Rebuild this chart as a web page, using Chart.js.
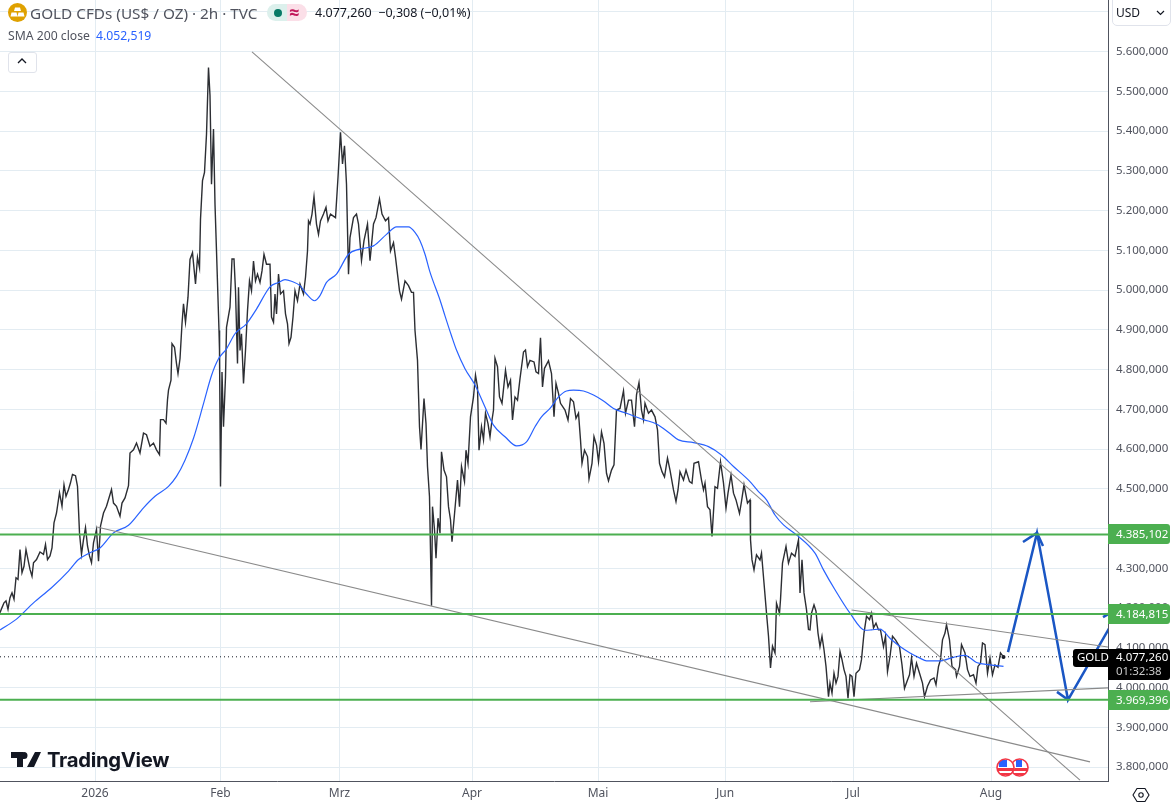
<!DOCTYPE html>
<html lang="de">
<head>
<meta charset="utf-8">
<title>GOLD CFDs</title>
<script src="https://cdn.jsdelivr.net/npm/chart.js@4"></script>
<style>
html,body{margin:0;padding:0;background:#fff;width:1172px;height:805px;overflow:hidden;font-family:"Noto Sans","Open Sans",sans-serif;color:#131722}
#wrap{position:relative;width:1172px;height:805px}
canvas{position:absolute;left:0;top:0}
.o{position:absolute;white-space:nowrap}
</style>
</head>
<body>
<div id="wrap">
<canvas id="c" width="1172" height="805"></canvas>
<svg class="o" style="left:8px;top:3px" width="19" height="19" viewBox="0 0 19 19"><circle cx="9.5" cy="9.5" r="9.5" fill="#dfa100"/><path d="M7 4.5h5l1 3.5H6z" fill="#fff"/><path d="M3.5 9.5h5l1 4h-7zM10.5 9.500h5l1 4h-7z" fill="#fff"/></svg>
<div class="o" style="left:30px;top:1px;font-size:15.3px;line-height:24px;color:#50535e">GOLD CFDs (US$ / OZ) · 2h · TVC</div>
<div class="o" style="left:267px;top:4px;width:20px;height:17px;background:#dcf0ec;border-radius:9px 0 0 9px"></div>
<div class="o" style="left:287px;top:4px;width:20px;height:17px;background:#fbdfe8;border-radius:0 9px 9px 0"></div>
<div class="o" style="left:274px;top:8.500px;width:8px;height:8px;background:#087a66;border-radius:50%"></div>
<div class="o" style="left:289px;top:0px;font-size:18px;line-height:24px;color:#c2185b;font-weight:700">≈</div>
<div class="o" style="left:315px;top:1px;font-size:12.5px;line-height:24px;color:#131722">4.077,260&nbsp; −0,308 (−0,01%)</div>
<div class="o" style="left:8px;top:25px;font-size:12.2px;line-height:22px;color:#50535e">SMA 200 close</div>
<div class="o" style="left:96px;top:25px;font-size:12.2px;line-height:22px;color:#2962ff">4.052,519</div>
<div class="o" style="left:8px;top:52px;width:27px;height:19px;border:1px solid #e0e3eb;border-radius:3px;background:#fff"></div>
<svg class="o" style="left:16px;top:57px" width="12" height="9" viewBox="0 0 12 9"><path d="M2 6l4-4 4 4" fill="none" stroke="#131722" stroke-width="1.3"/></svg>
<div class="o" style="left:1112px;top:-1px;width:57px;height:25px;border:1px solid #e0e3eb;border-radius:0 0 5px 5px;background:#fff"></div>
<div class="o" style="left:1116px;top:1px;font-size:12px;line-height:24px;color:#131722">USD</div>
<svg class="o" style="left:1156px;top:10px" width="9" height="6" viewBox="0 0 9 6"><path d="M1 1l3.500 3.500L8 1" fill="none" stroke="#131722" stroke-width="1.200"/></svg>
<svg class="o" style="left:11px;top:752px" width="30" height="16" viewBox="0 0 30 16"><path d="M0 0h12v15H6V6H0zM24 0h6l-7 15h-7zM13 0a3.500 3.500 0 1 1 0 7a3.500 3.500 0 1 1 0-7z" fill="#131722"/></svg>
<div class="o" style="left:47px;top:746px;font-family:Inter,Roboto,sans-serif;font-weight:700;font-size:20.300px;line-height:28px;letter-spacing:-.3px;color:#131722">TradingView</div>
<svg class="o" style="left:995px;top:757px" width="36" height="22" viewBox="0 0 36 22">
<defs><clipPath id="k1"><circle cx="10.500" cy="10.500" r="8.500"/></clipPath><clipPath id="k2"><circle cx="24.500" cy="10.500" r="8.500"/></clipPath></defs>
<circle cx="24.500" cy="10.500" r="9" fill="#fff"/>
<g clip-path="url(#k2)"><path d="M16 11h18v3H16zM16 16h18v2H16z" fill="#f23645"/><path d="M21 3h6v7h-6z" fill="#2962ff"/></g>
<circle cx="24.500" cy="10.500" r="8.500" fill="none" stroke="#f23645" stroke-width="1.600"/>
<circle cx="10.500" cy="10.500" r="9" fill="#fff"/>
<g clip-path="url(#k1)"><path d="M2 11h18v3H2zM2 16h18v2H2z" fill="#f23645"/><path d="M4 3h8v7H4z" fill="#2962ff"/></g>
<circle cx="10.500" cy="10.500" r="8.500" fill="none" stroke="#f23645" stroke-width="1.600"/>
</svg>
<svg class="o" style="left:1132px;top:786px" width="18" height="18" viewBox="0 0 18 18"><path d="M5 2.500h8L17 9l-4 6.500H5L1 9z" fill="none" stroke="#131722" stroke-width="1.100"/><circle cx="9" cy="9" r="2.200" fill="none" stroke="#131722" stroke-width="1.100"/></svg>
</div>
<script>
/* Time axis: 2h bar numbers */
const monthBars   = [190, 441, 679, 944, 1196, 1450, 1706, 1982];
const monthLabels = ["2026", "Feb", "Mrz", "Apr", "Mai", "Jun", "Jul", "Aug"];

/* Price axis */
const priceTicks = [3800,3900,4000,4100,4200,4300,4400,4500,4600,4700,4800,4900,5000,5100,5200,5300,5400,5500,5600,5700];

/* Horizontal levels and last price */
const greenLevels = [4385.102, 4184.815, 3969.396];
const lastPrice = 4077.260;
const lastPriceEndBar = 2146;

/* Close: January to February */
const barsA = [0,4,8,12,16,20,24,28,32,36,40,44,48,52,56,60,64,67,73,80,87,91,95,100,104,108,113,119,124,128,132,137,141,145,151,155,159,163,167,171,175,179,183,187,193,197,201,207,213,223,227,233,240,244,250,257,260,267,273,280,287,293,300,307,313,319,321,327,332,335,337,342,344,349,353,356,360,364,367,371,376,380,385,391,395,399,401,405,409,413,417,420,423,427,430,433,438,439,441,444,447,451,453,460,464,468,471,475,477,480,483,487,491,495,499,503,507,511,515,520,524,528,533,540,543,547,550,553,557,561,567,571,575,578,582,586,590,595,600,607];
const closeA = [4188,4201,4213,4218,4197,4226,4238,4222,4276,4272,4347,4289,4305,4347,4322,4297,4280,4314,4322,4341,4335,4360,4322,4331,4351,4414,4439,4490,4456,4510,4481,4498,4515,4536,4533,4506,4389,4335,4372,4402,4356,4331,4314,4364,4397,4318,4406,4439,4456,4498,4464,4456,4431,4464,4477,4508,4590,4598,4615,4590,4640,4636,4607,4615,4598,4586,4674,4674,4665,4724,4748,4773,4865,4856,4815,4790,4827,4915,4965,4919,4982,5077,5094,5015,5082,5056,5178,5275,5296,5392,5560,5489,5266,5405,5216,5098,4898,4848,4506,4794,4656,4781,4906,4957,5078,5078,4998,4815,5007,4848,4890,4765,4848,4948,5023,4998,5073,5023,5040,5019,5048,5090,5065,5065,4932,4919,4990,4940,5040,4990,4998,4940,4915,4865,4881,4932,4998,4973,5015,4990];

/* Close: March */
const barsB = [611,615,617,620,624,628,633,637,641,647,652,656,661,671,676,681,685,689,693,697,700,707,713,717,723,728,735,740,747,752,759,764,771,777,781,787,791,795,799,803,810,817,823,827,830,835,839,842,848,852,855,859,863,865,869,872,876,880,883,888,893,897,901,904,908,915,919,923,929,932,936,941,947,951,955,958,963,967,971,976,980,984,987,990,995,999,1004,1011,1016,1021,1025,1030,1035,1040,1047,1051,1055,1060,1068,1072,1077,1081,1085,1089,1097,1103,1108,1112,1117,1121,1130,1136,1141,1147,1152,1157,1161,1164,1169,1175,1178,1184,1188,1193,1197,1203,1208,1213,1217,1223,1228,1233,1240,1247,1251,1257,1263,1269,1273,1278,1283,1287,1290,1297,1303,1310,1315,1319,1324,1329,1335,1340];
const closeB = [5032,5098,5174,5166,5191,5235,5166,5140,5174,5191,5208,5174,5191,5182,5283,5397,5317,5363,5266,5040,5132,5182,5191,5166,5074,5124,5166,5074,5166,5182,5229,5191,5174,5182,5098,5119,5082,5040,4998,4977,5023,5011,4994,4994,4898,4823,4656,4599,4727,4664,4556,4480,4206,4455,4397,4325,4426,4388,4593,4547,4530,4455,4422,4367,4422,4522,4455,4556,4518,4597,4564,4681,4731,4786,4756,4597,4656,4623,4690,4664,4631,4673,4698,4828,4807,4731,4715,4798,4756,4773,4673,4731,4723,4777,4844,4849,4807,4823,4819,4794,4790,4880,4756,4803,4822,4790,4681,4765,4740,4715,4698,4673,4727,4719,4677,4690,4623,4564,4597,4581,4525,4564,4631,4610,4568,4643,4614,4539,4520,4547,4560,4698,4702,4746,4690,4723,4723,4656,4736,4767,4698,4673,4715,4690,4698,4681,4648,4564,4543,4530,4577,4547];

/* Close: May to August */
const barsC = [1341,1347,1352,1356,1360,1367,1372,1379,1384,1388,1397,1403,1407,1410,1415,1420,1424,1430,1435,1441,1447,1452,1456,1462,1467,1472,1479,1483,1488,1495,1500,1501,1504,1508,1513,1520,1523,1528,1533,1537,1541,1545,1550,1553,1559,1561,1565,1572,1577,1583,1590,1597,1600,1604,1608,1613,1617,1620,1623,1628,1632,1636,1640,1644,1648,1652,1657,1660,1664,1668,1672,1676,1680,1684,1688,1692,1696,1700,1704,1708,1712,1719,1723,1728,1733,1739,1743,1747,1752,1757,1761,1767,1771,1775,1780,1785,1791,1799,1804,1809,1815,1819,1823,1828,1833,1840,1845,1849,1855,1861,1868,1872,1877,1881,1885,1890,1893,1899,1904,1911,1913,1919,1923,1930,1935,1940,1947,1952,1956,1961,1965,1970,1975,1980,1985,1990,1996,2001,2007];
const closeC = [4547,4497,4468,4497,4543,4522,4547,4518,4514,4564,4568,4522,4497,4514,4455,4447,4380,4505,4501,4568,4514,4451,4489,4535,4489,4472,4438,4468,4510,4464,4472,4372,4321,4296,4334,4321,4338,4263,4187,4129,4049,4104,4087,4212,4187,4221,4313,4355,4313,4338,4330,4372,4238,4321,4238,4196,4146,4145,4187,4208,4192,4137,4103,4129,4095,4053,3977,4011,3986,4036,4011,4028,4091,4070,4045,4028,3973,4032,4028,3977,4036,4045,4070,4137,4179,4171,4187,4150,4162,4145,4145,4103,4129,4040,4078,4129,4120,4103,4057,3998,4019,4032,4074,4028,4061,4032,4011,3977,4003,4019,4024,4007,4053,4070,4120,4137,4158,4120,4053,4045,4028,4053,4108,4087,4045,4028,4032,4011,4053,4061,4112,4108,4036,4074,4032,4057,4051,4087,4077];

/* SMA 200 close */
const smaBars = [0,33,67,103,137,157,180,200,227,257,287,310,337,353,370,387,407,423,437,453,470,493,513,540,557,570,583,600,613,629,640,653,673,697,720,747,773,793,817,830,840,850,860,880,890,903,913,930,950,970,987,1010,1033,1053,1070,1083,1100,1117,1133,1147,1167,1187,1207,1227,1253,1287,1313,1340,1357,1387,1417,1443,1467,1500,1517,1533,1550,1567,1593,1630,1647,1670,1700,1730,1743,1760,1780,1800,1820,1840,1853,1880,1907,1930,1953,1980,2007];
const smaValues = [4145,4172,4213,4251,4293,4322,4339,4351,4389,4408,4452,4481,4506,4531,4572,4627,4714,4785,4827,4852,4890,4915,4952,5008,5019,5026,5022,5011,4990,4973,4986,5019,5040,5090,5103,5111,5140,5159,5159,5145,5124,5090,5045,4975,4935,4885,4849,4802,4761,4706,4660,4631,4608,4618,4656,4681,4702,4731,4746,4748,4746,4736,4721,4702,4690,4674,4663,4639,4623,4616,4606,4585,4556,4518,4493,4472,4434,4409,4384,4338,4296,4246,4187,4144,4145,4147,4124,4103,4087,4074,4067,4067,4076,4081,4063,4057,4053];

/* Gray trend lines: [start bar, end bar], [start price, end price] */
const trendBars   = [[504,2160],[194,2180],[1703,2216],[1620,2216]];
const trendValues = [[5599,3767],[4404,3813],[4195,4102],[3964,3999]];

/* Hand-drawn blue projection */
const arrowBars   = [2016,2074,2136,2244];
const arrowValues = [4089,4389,3969,4205];
const wingBars    = [[2046,2074,2086],[2114,2136],[2206,2244]];
const wingValues  = [[4366,4389,4356],[3989,3969],[4177,4205]];

const fmt = v => v.toLocaleString("de-DE",{minimumFractionDigits:3,maximumFractionDigits:3});
const zip = (xs,ys) => xs.map((x,i)=>({x,y:ys[i]}));
const priceLine = {type:"line",pointRadius:0,borderWidth:1,tension:0,fill:false};

const datasets = [];
greenLevels.forEach(v=>datasets.push({...priceLine,data:[{x:0,y:v},{x:2216,y:v}],borderColor:"#4caf50",borderWidth:2}));
trendBars.forEach((b,i)=>datasets.push({...priceLine,data:zip(b,trendValues[i]),borderColor:"#8a8a8a",borderWidth:1.1}));
datasets.push({...priceLine,data:[{x:0,y:lastPrice},{x:lastPriceEndBar,y:lastPrice}],borderColor:"#131722",borderDash:[1,3]});
datasets.push({...priceLine,data:zip(smaBars,smaValues),borderColor:"#2962ff",borderWidth:1.2,cubicInterpolationMode:"monotone"});
datasets.push({...priceLine,data:zip(barsA.concat(barsB,barsC),closeA.concat(closeB,closeC)),borderColor:"#2c2e33",borderWidth:1.4,borderJoinStyle:"miter"});
datasets.push({...priceLine,data:[{x:barsC[barsC.length-1],y:closeC[closeC.length-1]}],pointRadius:2,pointBackgroundColor:"#131722",pointBorderWidth:0});
datasets.push({...priceLine,data:zip(arrowBars,arrowValues),borderColor:"#1a56c4",borderWidth:2.5});
wingBars.forEach((b,i)=>datasets.push({...priceLine,data:zip(b,wingValues[i]),borderColor:"#1a56c4",borderWidth:2.5}));

const tagsPlugin = {
  id:"tags",
  afterDraw(chart){
    const {ctx,scales:{y},chartArea:a} = chart;
    const W = 62, L = a.right;
    const box = (x,yy,w,h,r,fill)=>{ctx.beginPath();ctx.roundRect(x,yy,w,h,r);ctx.fillStyle=fill;ctx.fill();};
    ctx.save();
    ctx.textBaseline="middle";
    ctx.font='11.5px "Noto Sans"';
    ctx.textAlign="left";
    greenLevels.forEach(v=>{
      const p=Math.round(y.getPixelForValue(v));
      box(L,p-10,W,20,[0,3,3,0],"#4caf50");
      ctx.fillStyle="#fff";
      ctx.fillText(fmt(v),L+8,p+0.5);
    });
    const p=Math.round(y.getPixelForValue(lastPrice));
    box(L-35,p-8,35,18,[3,0,0,3],"#000");
    box(L,p-8,W,31,[0,3,3,0],"#000");
    ctx.fillStyle="#fff";
    ctx.fillText("GOLD",L-31,p+1);
    ctx.fillText(fmt(lastPrice),L+8,p+1);
    ctx.fillStyle="#c8c8c8";
    ctx.fillText("01:32:38",L+8,p+15);
    ctx.restore();
  }
};
const noPad = s => {s.paddingTop=0;s.paddingBottom=0;s.paddingLeft=0;s.paddingRight=0;};

new Chart(document.getElementById("c"),{
  type:"line",
  data:{datasets},
  plugins:[tagsPlugin],
  options:{
    responsive:false,animation:false,
    events:[],
    layout:{autoPadding:false,padding:0},
    plugins:{legend:{display:false},tooltip:{enabled:false}},
    scales:{
      x:{
        type:"linear",min:0,max:2216,
        afterFit(s){s.height=24;noPad(s);},
        afterBuildTicks(s){s.ticks=monthBars.map(v=>({value:v}));},
        grid:{color:"#e3ecf2",drawTicks:false,lineWidth:1},
        border:{color:"#50535e",width:1},
        ticks:{autoSkip:false,maxRotation:0,padding:5,color:"#50535e",font:{family:"Noto Sans",size:12},
          callback:v=>monthLabels[monthBars.indexOf(v)]}
      },
      y:{
        position:"right",min:3764.8,max:5729.6,
        afterFit(s){s.width=64;noPad(s);},
        afterBuildTicks(s){s.ticks=priceTicks.map(v=>({value:v}));},
        grid:{color:"#e3ecf2",drawTicks:false,lineWidth:1},
        border:{color:"#50535e",width:1},
        ticks:{autoSkip:false,padding:8,color:"#50535e",font:{family:"Noto Sans",size:11.5},callback:v=>fmt(v)}
      }
    }
  }
});
</script>
</body>
</html>
